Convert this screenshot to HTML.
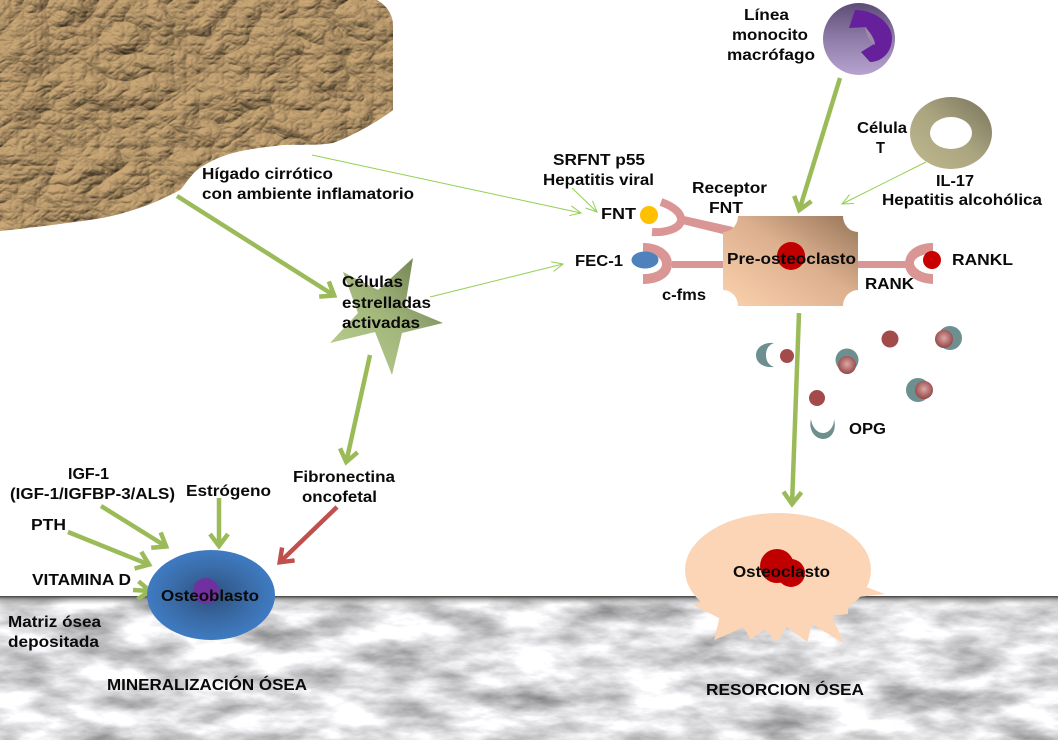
<!DOCTYPE html>
<html><head><meta charset="utf-8"><style>
html,body{margin:0;padding:0;background:#fff;width:1058px;height:740px;overflow:hidden}
svg{display:block}
text{font-family:"Liberation Sans",sans-serif;font-weight:bold;font-size:16px;fill:#0a0a0a}
</style></head><body>
<svg width="1058" height="740" viewBox="0 0 1058 740" xmlns="http://www.w3.org/2000/svg">
<defs>
<filter id="bone" x="0" y="0" width="100%" height="100%" color-interpolation-filters="sRGB">
<feTurbulence type="fractalNoise" baseFrequency=".016 .045" numOctaves="5" seed="7"/>
<feColorMatrix values=".8 0 0 0 .47  .8 0 0 0 .47  .8 0 0 0 .48  0 0 0 0 1"/>
</filter>
<filter id="liver" x="0" y="0" width="100%" height="100%" color-interpolation-filters="sRGB">
<feTurbulence type="turbulence" baseFrequency=".02 .027" numOctaves="4" seed="11" result="n"/>
<feDiffuseLighting in="n" surfaceScale="5" diffuseConstant="1.12" lighting-color="#b5966a">
<feDistantLight azimuth="235" elevation="58"/>
</feDiffuseLighting>
</filter>
<linearGradient id="edge" x1="0" y1="0" x2="0" y2="1"><stop offset="0" stop-color="#3c3c3c"/><stop offset=".35" stop-color="#8a8a8a" stop-opacity=".7"/><stop offset="1" stop-color="#ccc" stop-opacity="0"/></linearGradient>
<linearGradient id="pre" x1="0" y1="1" x2="1" y2="0"><stop offset="0" stop-color="#fcd2ad"/><stop offset=".55" stop-color="#dcb08f"/><stop offset="1" stop-color="#967559"/></linearGradient>
<linearGradient id="star" x1="0" y1="1" x2="1" y2="0"><stop offset="0" stop-color="#bcd193"/><stop offset=".5" stop-color="#a2b67b"/><stop offset="1" stop-color="#667549"/></linearGradient>
<linearGradient id="mono" x1="0" y1="0" x2="0" y2="1"><stop offset="0" stop-color="#5d4c76"/><stop offset=".5" stop-color="#8f7ca8"/><stop offset="1" stop-color="#b7a3cf"/></linearGradient>
<linearGradient id="tc" x1="0" y1="1" x2="1" y2="0"><stop offset="0" stop-color="#c0b98f"/><stop offset=".5" stop-color="#aaa480"/><stop offset="1" stop-color="#77735a"/></linearGradient>
<radialGradient id="ob"><stop offset="0" stop-color="#2d4f7d"/><stop offset=".6" stop-color="#3a6ca8"/><stop offset="1" stop-color="#3f7bc2"/></radialGradient>
<radialGradient id="pink" cx=".5" cy=".45" r=".55"><stop offset="0" stop-color="#d9a9a6"/><stop offset="1" stop-color="#964545"/></radialGradient>
<clipPath id="lv"><path d="M0,0 H377 C386,5 393,14 393,25 V110 C380,120 355,135 333,143 C315,146 298,144 283,145 C265,147 248,149 233,153 C218,157 205,164 197,170 C190,176 185,185 180,190 C165,198 150,205 133,210 C110,218 90,220 67,223 C45,226 20,229 0,231 Z"/></clipPath>
<marker id="g" markerUnits="userSpaceOnUse" markerWidth="40" markerHeight="40" refX="20" refY="20" orient="auto" overflow="visible"><path d="M7,11 L19,20 L7,29" fill="none" stroke="#9bbb59" stroke-width="4.5"/></marker>
<marker id="r" markerUnits="userSpaceOnUse" markerWidth="40" markerHeight="40" refX="20" refY="20" orient="auto" overflow="visible"><path d="M7,11 L19,20 L7,29" fill="none" stroke="#c0504d" stroke-width="4.5"/></marker>
<marker id="t" markerUnits="userSpaceOnUse" markerWidth="40" markerHeight="40" refX="20" refY="20" orient="auto" overflow="visible"><path d="M9,15 L20,20 L9,25" fill="none" stroke="#92d050" stroke-width="1"/></marker>
</defs>

<rect width="1058" height="740" fill="#fff"/>
<g clip-path="url(#lv)"><rect x="0" y="0" width="400" height="235" filter="url(#liver)"/></g>
<rect x="0" y="596" width="1058" height="144" filter="url(#bone)"/>
<rect x="0" y="596" width="1058" height="9" fill="url(#edge)"/>

<!-- thin arrows -->
<g fill="none" stroke="#92d050" stroke-width="1">
<line x1="312" y1="155" x2="581" y2="213" marker-end="url(#t)"/>
<line x1="430" y1="297" x2="563" y2="264" marker-end="url(#t)"/>
<line x1="572" y1="188" x2="597" y2="212" marker-end="url(#t)"/>
<line x1="926" y1="162" x2="842" y2="204" marker-end="url(#t)"/>
</g>

<!-- star -->
<polygon points="413,258 405,307 443,323 402,333 392,375 375,332 330,343 358,313 343,272 378,290" fill="url(#star)"/>

<!-- monocyte -->
<circle cx="859" cy="39" r="36" fill="url(#mono)"/>
<path d="M855,10 C876,10 892,24 892,38 C892,52 882,62 870,62 L861,52 L874,44 L866,27 L849,28 Z" fill="#66209c"/>
<path d="M865,27 C871,33 875,40 875,45 C870,42 866,35 865,27 Z" fill="#9d8ba9"/>

<!-- T cell -->
<path fill-rule="evenodd" d="M910,133 A41,36 0 1 1 992,133 A41,36 0 1 1 910,133 Z M930,133 A21,16 0 1 0 972,133 A21,16 0 1 0 930,133 Z" fill="url(#tc)"/>

<!-- receptors -->
<g fill="#d99694">
<rect x="672" y="261" width="52" height="7"/>
<rect x="857" y="261" width="49" height="7"/>
<polygon points="684,216 733,227 731,236 682,224"/>
<path d="M643,243 C660,243 672,252 672,264 C672,276 660,284 643,284 L643,274 C655,274 662,270 662,264 C662,258 655,254 643,253 Z"/>
<path d="M933,243 C916,243 905,252 905,264 C905,275 916,283 933,284 L933,274 C922,274 914,268 914,263 C914,258 922,254 933,253 Z"/>
</g>
<path d="M661,202 C675,207 682,214 681,221 C679,229 665,233 652,232" fill="none" stroke="#d99694" stroke-width="8"/>
<circle cx="649" cy="215" r="9" fill="#ffc000"/>
<ellipse cx="645" cy="260" rx="13.5" ry="8.5" fill="#4f81bd"/>
<circle cx="932" cy="260" r="9" fill="#c80000"/>

<!-- pre-osteoclast -->
<path d="M738,216 H843 A15,16 0 0 0 858,232 V290 A15,16 0 0 0 843,306 H738 A15,16 0 0 0 723,290 V232 A15,16 0 0 0 738,216 Z" fill="url(#pre)"/>
<circle cx="791" cy="256" r="14" fill="#c00000"/>

<!-- OPG + RANKL particles -->
<g>
<path d="M774,343 C762,342 756,349 756,355 C756,362 762,368 774,367 C768,365 766,360 766,355 C766,350 768,345 774,343 Z" fill="#6d8f90"/>
<circle cx="787" cy="356" r="7" fill="#a34b4b"/>
<circle cx="847" cy="360" r="11.5" fill="#6d8f90"/>
<circle cx="847" cy="365" r="9" fill="url(#pink)"/>
<circle cx="890" cy="339" r="8.5" fill="#a34b4b"/>
<circle cx="950" cy="338" r="12" fill="#6d8f90"/>
<circle cx="944" cy="339" r="9" fill="url(#pink)"/>
<circle cx="918" cy="390" r="12" fill="#6d8f90"/>
<circle cx="924" cy="390" r="9" fill="url(#pink)"/>
<circle cx="817" cy="398" r="8" fill="#a34b4b"/>
<path d="M811,419 C808,431 816,439 823,439 C831,439 837,431 834,419 C834,427 829,433 823,433 C817,433 812,427 811,419 Z" fill="#6d8f90"/>
</g>

<!-- thick arrows -->
<g fill="none" stroke="#9bbb59" stroke-width="4.5">
<line x1="177" y1="196" x2="335" y2="296" marker-end="url(#g)"/>
<line x1="840" y1="78" x2="799" y2="211" marker-end="url(#g)"/>
<line x1="370" y1="355" x2="346" y2="463" marker-end="url(#g)"/>
<line x1="799" y1="313" x2="792" y2="505" marker-end="url(#g)"/>
<line x1="101" y1="506" x2="167" y2="547" marker-end="url(#g)"/>
<line x1="68" y1="532" x2="150" y2="565" marker-end="url(#g)"/>
<line x1="219" y1="498" x2="219" y2="547" marker-end="url(#g)"/>
<line x1="133" y1="590" x2="151" y2="591" marker-end="url(#g)"/>
</g>
<line x1="337" y1="507" x2="279" y2="563" stroke="#c0504d" stroke-width="4.5" marker-end="url(#r)"/>

<!-- osteoblast -->
<ellipse cx="211" cy="595" rx="64" ry="45" fill="url(#ob)"/>
<circle cx="206" cy="591" r="13" fill="#7030a0"/>

<!-- osteoclast -->
<ellipse cx="778" cy="570" rx="93" ry="57" fill="#fbd5b5"/>
<polygon fill="#fbd5b5" points="866.7,587.3 885,594 860,596.7 848,606.7 848,614 831.7,615.7 844,643.3 811.7,624 807.3,642.3 786.7,626.7 776.7,642.3 765,629.3 750.7,639.3 743.3,627.3 714.3,640 719.3,618.3 693.3,605 701.7,601.7 778,570"/>
<circle cx="777" cy="566" r="17" fill="#c00000"/>
<circle cx="791" cy="573" r="14" fill="#c00000"/>

<!-- labels -->
<text x="744" y="20" textLength="45" lengthAdjust="spacingAndGlyphs">Línea</text>
<text x="732" y="40" textLength="76" lengthAdjust="spacingAndGlyphs">monocito</text>
<text x="727" y="60" textLength="88" lengthAdjust="spacingAndGlyphs">macrófago</text>
<text x="857" y="133" textLength="50" lengthAdjust="spacingAndGlyphs">Célula</text>
<text x="876" y="153" textLength="9" lengthAdjust="spacingAndGlyphs">T</text>
<text x="936" y="186" textLength="38" lengthAdjust="spacingAndGlyphs">IL-17</text>
<text x="882" y="205" textLength="160" lengthAdjust="spacingAndGlyphs">Hepatitis alcohólica</text>
<text x="553" y="165" textLength="92" lengthAdjust="spacingAndGlyphs">SRFNT p55</text>
<text x="543" y="185" textLength="111" lengthAdjust="spacingAndGlyphs">Hepatitis viral</text>
<text x="692" y="193" textLength="75" lengthAdjust="spacingAndGlyphs">Receptor</text>
<text x="709" y="213" textLength="34" lengthAdjust="spacingAndGlyphs">FNT</text>
<text x="601" y="219" textLength="35" lengthAdjust="spacingAndGlyphs">FNT</text>
<text x="575" y="266" textLength="48" lengthAdjust="spacingAndGlyphs">FEC-1</text>
<text x="662" y="300" textLength="44" lengthAdjust="spacingAndGlyphs">c-fms</text>
<text x="727" y="264" textLength="129" lengthAdjust="spacingAndGlyphs">Pre-osteoclasto</text>
<text x="865" y="289" textLength="49" lengthAdjust="spacingAndGlyphs">RANK</text>
<text x="952" y="265" textLength="61" lengthAdjust="spacingAndGlyphs">RANKL</text>
<text x="849" y="434" textLength="37" lengthAdjust="spacingAndGlyphs">OPG</text>
<text x="202" y="179" textLength="131" lengthAdjust="spacingAndGlyphs">Hígado cirrótico</text>
<text x="202" y="199" textLength="212" lengthAdjust="spacingAndGlyphs">con ambiente inflamatorio</text>
<text x="342" y="287" textLength="61" lengthAdjust="spacingAndGlyphs">Células</text>
<text x="342" y="308" textLength="89" lengthAdjust="spacingAndGlyphs">estrelladas</text>
<text x="342" y="328" textLength="78" lengthAdjust="spacingAndGlyphs">activadas</text>
<text x="68" y="479" textLength="41" lengthAdjust="spacingAndGlyphs">IGF-1</text>
<text x="10" y="499" textLength="165" lengthAdjust="spacingAndGlyphs">(IGF-1/IGFBP-3/ALS)</text>
<text x="31" y="530" textLength="35" lengthAdjust="spacingAndGlyphs">PTH</text>
<text x="186" y="496" textLength="85" lengthAdjust="spacingAndGlyphs">Estrógeno</text>
<text x="293" y="482" textLength="102" lengthAdjust="spacingAndGlyphs">Fibronectina</text>
<text x="302" y="502" textLength="75" lengthAdjust="spacingAndGlyphs">oncofetal</text>
<text x="32" y="585" textLength="99" lengthAdjust="spacingAndGlyphs">VITAMINA D</text>
<text x="161" y="601" textLength="98" lengthAdjust="spacingAndGlyphs">Osteoblasto</text>
<text x="8" y="627" textLength="93" lengthAdjust="spacingAndGlyphs">Matriz ósea</text>
<text x="8" y="647" textLength="91" lengthAdjust="spacingAndGlyphs">depositada</text>
<text x="107" y="690" textLength="200" lengthAdjust="spacingAndGlyphs">MINERALIZACIÓN ÓSEA</text>
<text x="733" y="577" textLength="97" lengthAdjust="spacingAndGlyphs">Osteoclasto</text>
<text x="706" y="695" textLength="158" lengthAdjust="spacingAndGlyphs">RESORCION ÓSEA</text>
</svg>
</body></html>
